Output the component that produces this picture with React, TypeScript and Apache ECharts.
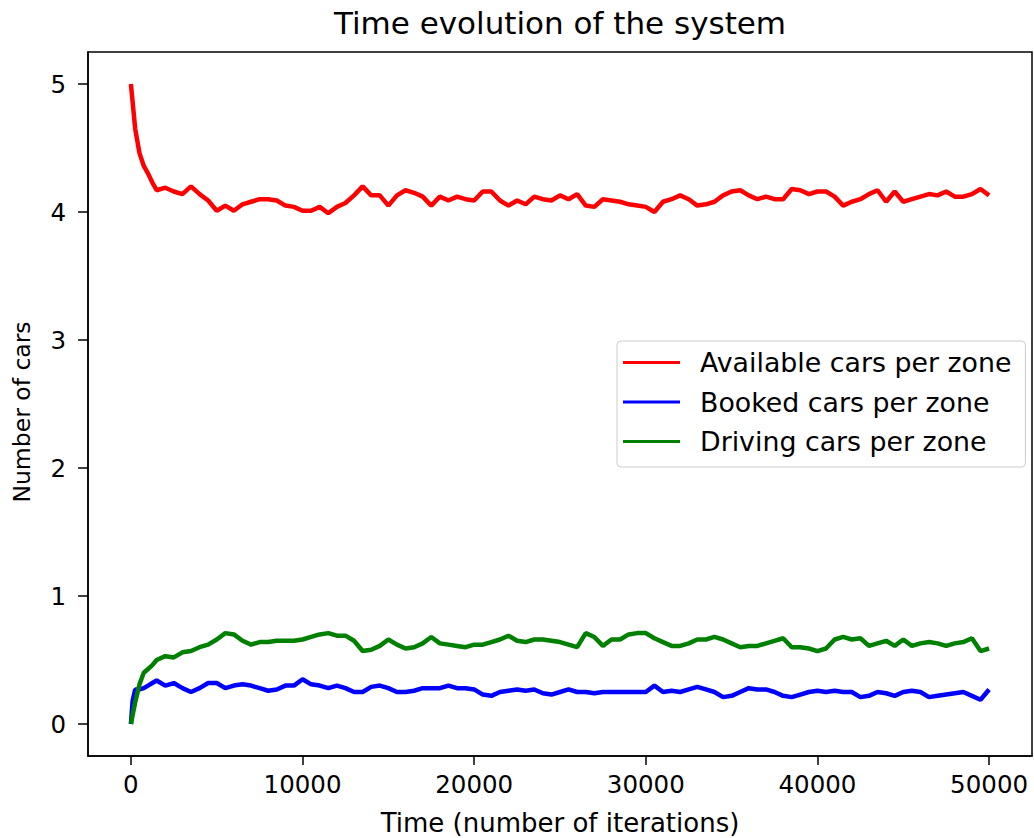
import React, { useEffect, useRef } from "react";
import * as echarts from "echarts";

const iterations = [
  0, 100, 250, 500, 750, 1000, 1250, 1500, 2000, 2500, 3000, 3500, 4000, 4500, 5000, 5500, 6000, 6500, 7000, 7500,
  8000, 8500, 9000, 9500, 10000, 10500, 11000, 11500, 12000, 12500, 13000, 13500, 14000, 14500, 15000, 15500,
  16000, 16500, 17000, 17500, 18000, 18500, 19000, 19500, 20000, 20500, 21000, 21500, 22000, 22500, 23000, 23500,
  24000, 24500, 25000, 25500, 26000, 26500, 27000, 27500, 28000, 28500, 29000, 29500, 30000, 30500, 31000, 31500,
  32000, 32500, 33000, 33500, 34000, 34500, 35000, 35500, 36000, 36500, 37000, 37500, 38000, 38500, 39000, 39500,
  40000, 40500, 41000, 41500, 42000, 42500, 43000, 43500, 44000, 44500, 45000, 45500, 46000, 46500, 47000, 47500,
  48000, 48500, 49000, 49500, 50000,
];

const availableCars = [
  5.0, 4.86, 4.65, 4.46, 4.36, 4.3, 4.23, 4.17, 4.19, 4.16, 4.14, 4.2, 4.14, 4.09, 4.01, 4.05, 4.01, 4.06, 4.08, 4.1,
  4.1, 4.09, 4.05, 4.04, 4.01, 4.01, 4.04, 3.99, 4.04, 4.07, 4.13, 4.2, 4.13, 4.13, 4.05, 4.13,
  4.17, 4.15, 4.12, 4.05, 4.12, 4.09, 4.12, 4.1, 4.09, 4.16, 4.16, 4.09, 4.05, 4.09, 4.06, 4.12,
  4.1, 4.09, 4.13, 4.1, 4.14, 4.05, 4.04, 4.1, 4.09, 4.08, 4.06, 4.05, 4.04, 4.0, 4.08, 4.1,
  4.13, 4.1, 4.05, 4.06, 4.08, 4.13, 4.16, 4.17, 4.13, 4.1, 4.12, 4.1, 4.1, 4.18, 4.17, 4.14,
  4.16, 4.16, 4.12, 4.05, 4.08, 4.1, 4.14, 4.17, 4.08, 4.16, 4.08, 4.1, 4.12, 4.14, 4.13, 4.16,
  4.12, 4.12, 4.14, 4.18, 4.13,
];

const bookedCars = [
  0.0, 0.18, 0.27, 0.27, 0.28, 0.3, 0.32, 0.34, 0.3, 0.32, 0.28, 0.25, 0.28, 0.32, 0.32, 0.28, 0.3, 0.31, 0.3, 0.28,
  0.26, 0.27, 0.3, 0.3, 0.35, 0.31, 0.3, 0.28, 0.3, 0.28, 0.25, 0.25, 0.29, 0.3, 0.28, 0.25,
  0.25, 0.26, 0.28, 0.28, 0.28, 0.3, 0.28, 0.28, 0.27, 0.23, 0.22, 0.25, 0.26, 0.27, 0.26, 0.27,
  0.24, 0.23, 0.25, 0.27, 0.25, 0.25, 0.24, 0.25, 0.25, 0.25, 0.25, 0.25, 0.25, 0.3, 0.25, 0.26,
  0.25, 0.27, 0.29, 0.27, 0.25, 0.21, 0.22, 0.25, 0.28, 0.27, 0.27, 0.25, 0.22, 0.21, 0.23, 0.25,
  0.26, 0.25, 0.26, 0.25, 0.25, 0.21, 0.22, 0.25, 0.24, 0.22, 0.25, 0.26, 0.25, 0.21, 0.22, 0.23,
  0.24, 0.25, 0.22, 0.19, 0.27,
];

const drivingCars = [
  0.0, 0.07, 0.17, 0.31, 0.4, 0.43, 0.46, 0.5, 0.53, 0.52, 0.56, 0.57, 0.6, 0.62, 0.66, 0.71, 0.7, 0.65, 0.62, 0.64,
  0.64, 0.65, 0.65, 0.65, 0.66, 0.68, 0.7, 0.71, 0.69, 0.69, 0.65, 0.57, 0.58, 0.61, 0.66, 0.62,
  0.59, 0.6, 0.63, 0.68, 0.63, 0.62, 0.61, 0.6, 0.62, 0.62, 0.64, 0.66, 0.69, 0.65, 0.64, 0.66,
  0.66, 0.65, 0.64, 0.62, 0.6, 0.71, 0.68, 0.61, 0.66, 0.66, 0.7, 0.71, 0.71, 0.67, 0.64, 0.61,
  0.61, 0.63, 0.66, 0.66, 0.68, 0.66, 0.63, 0.6, 0.61, 0.61, 0.63, 0.65, 0.67, 0.6, 0.6, 0.59,
  0.57, 0.59, 0.66, 0.68, 0.66, 0.67, 0.61, 0.63, 0.65, 0.61, 0.66, 0.61, 0.63, 0.64, 0.63, 0.61,
  0.63, 0.64, 0.67, 0.57, 0.59,
];

const xTicks = [0, 10000, 20000, 30000, 40000, 50000];
const yTicks = [0, 1, 2, 3, 4, 5];

const seriesNames = ["Available cars per zone", "Booked cars per zone", "Driving cars per zone"];
const seriesColors = ["#ff0000", "#0000ff", "#008000"];

const FONT = "DejaVu Sans";

export default function App() {
  const ref = useRef<HTMLDivElement>(null);

  useEffect(() => {
    if (!ref.current) return;
    const chart = echarts.init(ref.current, undefined, { renderer: "svg" });
    const allValues = [availableCars, bookedCars, drivingCars];
    const option = {
      animation: false,
      backgroundColor: "#ffffff",
      grid: {
        left: 88,
        top: 52,
        right: 2,
        bottom: 82,
        show: true,
        borderColor: "#000000",
        borderWidth: 1.5,
        backgroundColor: "transparent",
      },
      legend: {
        show: true,
        orient: "vertical",
        left: 617,
        top: 341,
        padding: [8, 14, 12, 6],
        icon: "rect",
        itemWidth: 57,
        itemHeight: 3,
        itemGap: 12.5,
        borderColor: "#cccccc",
        borderWidth: 1,
        borderRadius: 4,
        backgroundColor: "rgba(255,255,255,0.8)",
        textStyle: {
          fontFamily: FONT,
          fontSize: 26.8,
          color: "#000000",
          lineHeight: 26,
          padding: [0, 0, 0, 15],
        },
        data: seriesNames,
      },
      xAxis: {
        type: "value",
        min: -2500,
        max: 52500,
        splitLine: { show: false },
        axisLine: { show: true, onZero: false, lineStyle: { color: "#000", width: 1.5 } },
        axisTick: {
          show: true,
          inside: false,
          length: 9,
          customValues: xTicks,
          lineStyle: { color: "#000", width: 1.5 },
        },
        axisLabel: {
          show: true,
          customValues: xTicks,
          margin: 16,
          fontFamily: FONT,
          fontSize: 24.5,
          color: "#000000",
          formatter: (v: number) => String(v),
        },
      },
      yAxis: {
        type: "value",
        min: -0.25,
        max: 5.25,
        splitLine: { show: false },
        axisLine: { show: true, onZero: false, lineStyle: { color: "#000", width: 1.5 } },
        axisTick: {
          show: true,
          inside: false,
          length: 10,
          customValues: yTicks,
          lineStyle: { color: "#000", width: 1.5 },
        },
        axisLabel: {
          show: true,
          customValues: yTicks,
          margin: 22,
          fontFamily: FONT,
          fontSize: 24.5,
          color: "#000000",
          formatter: (v: number) => String(v),
        },
      },
      series: allValues.map((vals, si) => ({
        name: seriesNames[si],
        type: "line",
        showSymbol: false,
        symbol: "none",
        color: seriesColors[si],
        lineStyle: { color: seriesColors[si], width: 4.5 },
        data: vals.map((v, i) => [iterations[i], v]),
        z: 2 + si,
      })),
      graphic: [
        {
          type: "text",
          x: 560,
          y: 23,
          style: {
            text: "Time evolution of the system",
            font: `31px "${FONT}"`,
            fill: "#000000",
            textAlign: "center",
            textVerticalAlign: "middle",
          },
        },
        {
          type: "text",
          x: 560,
          y: 823,
          style: {
            text: "Time (number of iterations)",
            font: `26px "${FONT}"`,
            fill: "#000000",
            textAlign: "center",
            textVerticalAlign: "middle",
          },
        },
        {
          type: "text",
          x: 22,
          y: 412,
          rotation: Math.PI / 2,
          style: {
            text: "Number of cars",
            font: `23.5px "${FONT}"`,
            fill: "#000000",
            textAlign: "center",
            textVerticalAlign: "middle",
          },
        },
      ],
    };
    chart.setOption(option as any);
    return () => {
      chart.dispose();
    };
  }, []);

  return (
    <div
      ref={ref}
      style={{ position: "fixed", left: 0, top: 0, width: 1034, height: 838, background: "#fff" }}
    />
  );
}
